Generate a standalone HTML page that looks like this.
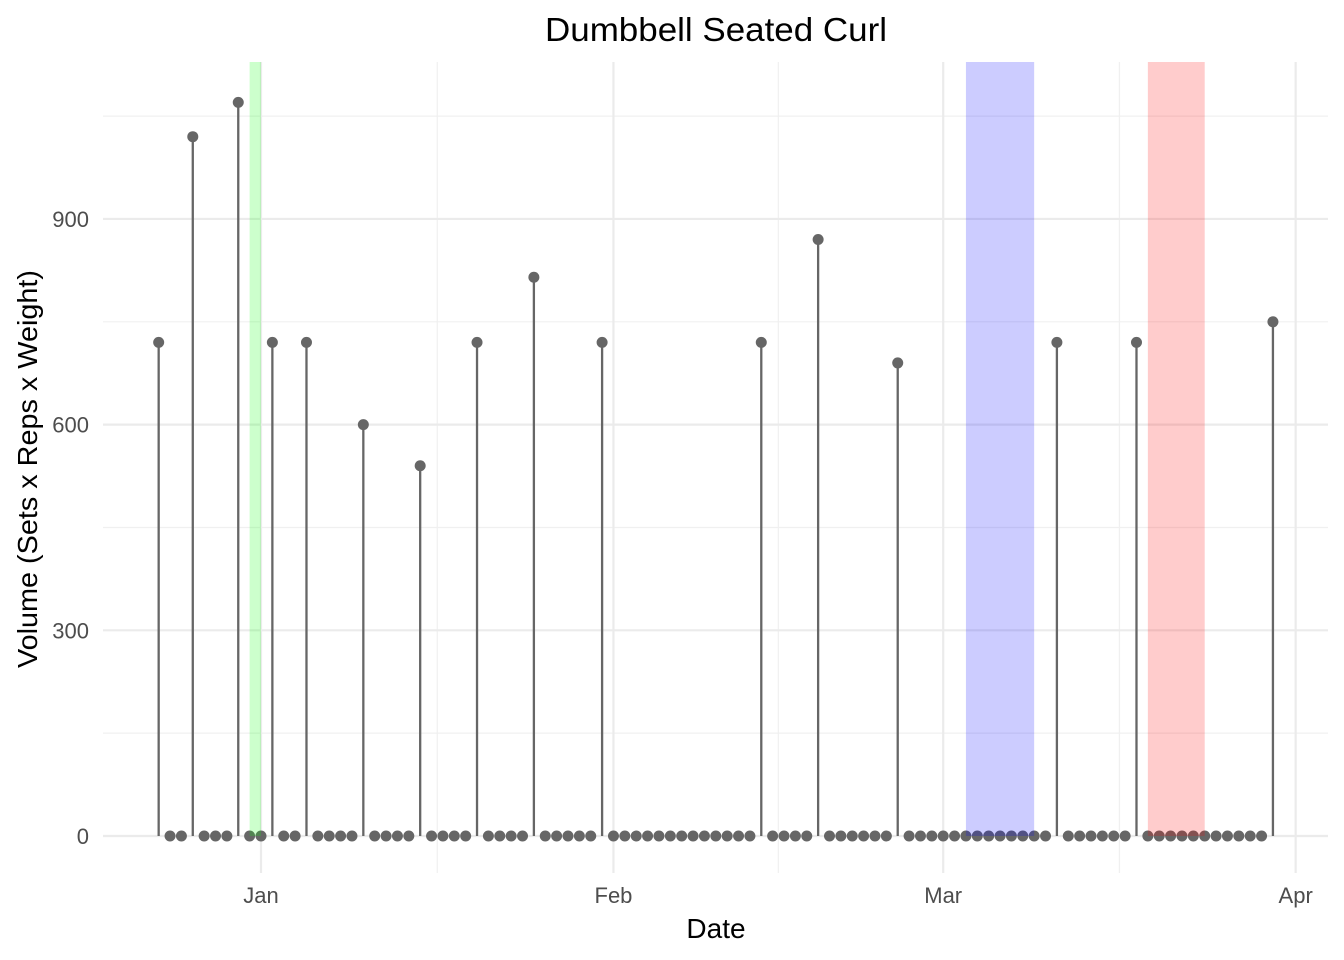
<!DOCTYPE html>
<html><head><meta charset="utf-8"><style>
body{margin:0;background:#fff;}
svg{display:block;font-family:"Liberation Sans",sans-serif;}
</style></head><body>
<svg id="chart" width="1344" height="960" viewBox="0 0 1344 960" xmlns="http://www.w3.org/2000/svg">
<text x="716" y="41" text-anchor="middle" font-size="33" textLength="342" lengthAdjust="spacingAndGlyphs" fill="#000">Dumbbell Seated Curl</text>
<text x="716" y="938" text-anchor="middle" font-size="28" fill="#000">Date</text>
<text transform="translate(37,469) rotate(-90)" text-anchor="middle" font-size="28" textLength="398" lengthAdjust="spacingAndGlyphs" fill="#000">Volume (Sets x Reps x Weight)</text>
<g id="grid"></g><g id="marks"></g><g id="bands"></g><g id="axes"></g>
</svg>
<script>
// day offsets from Jan 1 (2024); first value is day -9 (Dec 23)
const startDay = -9;
const volumes = [720,0,0,1020,0,0,0,1070,0,0,720,0,0,720,0,0,0,0,600,0,0,0,0,540,0,0,0,0,720,0,0,0,0,815,0,0,0,0,0,720,
0,0,0,0,0,0,0,0,0,0,0,0,0,720,0,0,0,0,870,0,0,0,0,0,0,690,0,0,0,0,0,0,0,0,0,0,0,0,0,720,0,0,0,0,0,0,720,
0,0,0,0,0,0,0,0,0,0,0,750];
const bandStarts = [-1, 62, 78];
const bandEnds = [0, 68, 83];
const bandColors = ["rgba(0,255,0,0.2)","rgba(0,0,255,0.2)","rgba(255,0,0,0.2)"];
const yTicks = [0,300,600,900];
const yMinor = [150,450,750,1050];
const xTickDays = [0,31,60,91];
const xTickLabels = ["Jan","Feb","Mar","Apr"];
const xMinorDays = [15.5,45.5,75.5];

const NS="http://www.w3.org/2000/svg";
const PL=103, PR=1328, PT=62, PB=873;
const x = d => 261 + d*11.37;
const y = v => 836 - v*0.6856;
function mk(tag, parent, attrs){const e=document.createElementNS(NS,tag);for(const k in attrs)e.setAttribute(k,attrs[k]);document.getElementById(parent).appendChild(e);return e;}

yMinor.forEach(v=>{const l=mk('line','grid',{x1:PL,x2:PR,y1:y(v),y2:y(v),stroke:'#f0f0f0','stroke-width':1.2});

});
xMinorDays.forEach(d=>{const l=mk('line','grid',{x1:x(d),x2:x(d),y1:PT,y2:PB,stroke:'#f0f0f0','stroke-width':1.2});

});
yTicks.forEach(v=>{const l=mk('line','grid',{x1:PL,x2:PR,y1:y(v),y2:y(v),stroke:'#ebebeb','stroke-width':2.2});


const t=mk('text','axes',{x:89,y:y(v)+8,'text-anchor':'end','font-size':22,fill:'#4d4d4d'});t.textContent=v;

});
xTickDays.forEach((d,i)=>{const l=mk('line','grid',{x1:x(d),x2:x(d),y1:PT,y2:PB,stroke:'#ebebeb','stroke-width':2.2});


const t=mk('text','axes',{x:x(d),y:903,'text-anchor':'middle','font-size':22,fill:'#4d4d4d'});t.textContent=xTickLabels[i];

});

volumes.forEach((v,i)=>{const d=startDay+i;
if(v>0){const s=mk('line','marks',{x1:x(d),x2:x(d),y1:y(0),y2:y(v),stroke:'#666','stroke-width':2.3});

}
const c=mk('circle','marks',{cx:x(d),cy:y(v),r:5.5,fill:'#666'});

});

bandStarts.forEach((s,i)=>{const r=mk('rect','bands',{x:x(s),y:PT,width:x(bandEnds[i])-x(s),height:y(0)-PT,fill:bandColors[i]});

});
</script>
</body></html>
